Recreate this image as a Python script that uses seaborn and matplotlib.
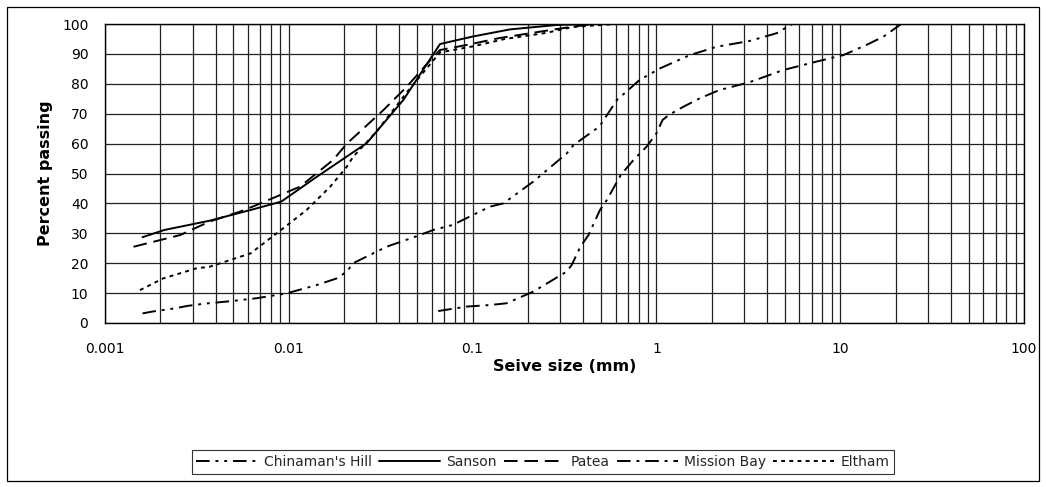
import matplotlib
matplotlib.use("Agg")
import matplotlib.pyplot as plt
import matplotlib.ticker as mticker
from matplotlib.patches import Rectangle
import seaborn as sns
import pandas as pd

series_names = ["Chinaman's Hill", "Sanson", "Patea", "Mission Bay", "Eltham"]

chinaman_x = [0.0016, 0.0018, 0.0024, 0.0028, 0.0034, 0.005, 0.0067, 0.0097, 0.0142, 0.0182,
              0.0207, 0.0224, 0.034, 0.048, 0.061, 0.078, 0.124, 0.147, 0.214, 0.325, 0.354,
              0.49, 0.61, 0.72, 0.81, 1.05, 1.52, 2.13, 3.2, 4.5, 5.5, 20]
chinaman_y = [3.2, 3.8, 4.9, 5.7, 6.4, 7.4, 8.3, 9.9, 12.7, 14.9, 17.2, 20, 25.5, 28.7, 31.1,
              32.8, 38.9, 40, 47.3, 56.7, 59.5, 65.7, 74.6, 78.5, 81.3, 85.2, 89.6, 92.4, 94.3,
              96.9, 100, 100]

sanson_x = [0.0016, 0.0021, 0.0037, 0.0062, 0.0091, 0.0142, 0.0234, 0.0265, 0.042, 0.0665,
            0.1, 0.16, 0.29, 0.5, 20]
sanson_y = [28.7, 31.1, 34.2, 37.8, 40.6, 48.9, 57.9, 60.1, 74.6, 93.3, 95.8, 98.2, 99.7, 100, 100]

patea_x = [0.00143, 0.00256, 0.0037, 0.0054, 0.0067, 0.0115, 0.0174, 0.0207, 0.0327, 0.0438,
           0.061, 0.0665, 0.093, 0.14, 0.21, 0.3, 0.45, 20]
patea_y = [25.5, 29.4, 33.9, 37.2, 39.5, 45.6, 54.5, 60, 71.2, 79, 89, 91.3, 93, 95.3, 97,
           98.5, 100, 100]

mission_x = [0.065, 0.075, 0.093, 0.124, 0.153, 0.214, 0.325, 0.346, 0.386, 0.427, 0.493,
             0.537, 0.64, 0.75, 0.885, 1.0, 1.08, 1.17, 1.4, 1.73, 2.2, 3.2, 4.9, 7.4, 10.4,
             13.9, 17.2, 21.5]
mission_y = [4.0, 4.6, 5.5, 6.0, 6.6, 10.5, 17.2, 19.4, 25.5, 29.4, 37.8, 41.1, 49.5, 54.5,
             59.0, 63.4, 67.9, 69.6, 72.3, 75.2, 77.9, 80.5, 84.6, 87.4, 89.6, 93, 95.8, 100]

eltham_x = [0.00155, 0.00207, 0.00315, 0.0037, 0.0062, 0.0097, 0.0125, 0.0168, 0.0207, 0.0224,
            0.03, 0.045, 0.0665, 0.1, 0.15, 0.25, 0.35, 0.6, 20]
eltham_y = [11, 14.9, 18.3, 18.8, 23.3, 32.5, 37.8, 45.6, 52.3, 55.6, 64, 78, 90.5, 92.5, 95,
            97, 99, 100, 100]

x_ticks = [0.001, 0.01, 0.1, 1, 10, 100]
x_tick_labels = ["0.001", "0.01", "0.1", "1", "10", "100"]
y_ticks = [0, 10, 20, 30, 40, 50, 60, 70, 80, 90, 100]

xs = [chinaman_x, sanson_x, patea_x, mission_x, eltham_x]
ys = [chinaman_y, sanson_y, patea_y, mission_y, eltham_y]
frames = []
for name, xv, yv in zip(series_names, xs, ys):
    frames.append(pd.DataFrame({"size": xv, "passing": yv, "sample": name}))
df = pd.concat(frames, ignore_index=True)

sns.set_theme(style="white")
plt.rcParams["font.family"] = ["DejaVu Sans"]

fig = plt.figure(figsize=(10.46, 4.87), dpi=100)
ax = fig.add_axes([105 / 1046, 1 - 323 / 487, (1024 - 105) / 1046, (323 - 24) / 487])

dashes = {
    "Chinaman's Hill": (7, 3, 1.5, 3, 1.5, 3),
    "Sanson": "",
    "Patea": (7, 3.5),
    "Mission Bay": (7, 3, 1.5, 3),
    "Eltham": (2, 2.2),
}
sns.lineplot(data=df, x="size", y="passing", hue="sample", style="sample",
             hue_order=series_names, style_order=series_names,
             palette=["black"] * 5, dashes=dashes, estimator=None, sort=False,
             linewidth=1.4, ax=ax, legend=True)

ax.set_xscale("log")
ax.set_xlim(0.001, 100)
ax.set_ylim(0, 100)
ax.set_xticks(x_ticks)
ax.set_xticklabels(x_tick_labels)
ax.xaxis.set_minor_locator(mticker.LogLocator(base=10, subs=range(2, 10)))
ax.xaxis.set_minor_formatter(mticker.NullFormatter())
ax.set_yticks(y_ticks)

ax.grid(True, which="major", axis="both", color="#222222", linewidth=0.9)
ax.grid(True, which="minor", axis="x", color="#222222", linewidth=0.9)
ax.set_axisbelow(True)
for sp in ax.spines.values():
    sp.set_color("black")
    sp.set_linewidth(1.0)

ax.tick_params(axis="both", which="major", direction="out", length=5, width=0.8,
               color="black", labelsize=10, labelcolor="black")
ax.tick_params(axis="x", which="major", pad=9)
ax.tick_params(axis="y", which="major", pad=7)
ax.tick_params(axis="x", which="minor", length=0)

ax.set_xlabel("Seive size (mm)", fontsize=11.5, fontweight="bold", color="black")
ax.set_ylabel("Percent passing", fontsize=11.5, fontweight="bold", color="black")
ax.xaxis.set_label_coords(0.5, -0.12)
ax.yaxis.set_label_coords(-0.057, 0.5)

handles, labels = ax.get_legend_handles_labels()
ax.get_legend().remove()
leg = fig.legend(handles, labels, loc="center", bbox_to_anchor=(543 / 1046, 1 - 462 / 487),
                 ncol=5, frameon=True, fancybox=False, edgecolor="black", fontsize=10,
                 handlelength=4.4, handletextpad=0.45, columnspacing=0.5,
                 borderpad=0.35, borderaxespad=0)
leg.get_frame().set_linewidth(0.8)

fig.patches.append(Rectangle((7 / 1046, 1 - 481 / 487), (1039 - 7) / 1046, (481 - 7) / 487,
                             transform=fig.transFigure, fill=False, edgecolor="black",
                             linewidth=0.9, zorder=-1))

fig.savefig("out.png", dpi=100)
